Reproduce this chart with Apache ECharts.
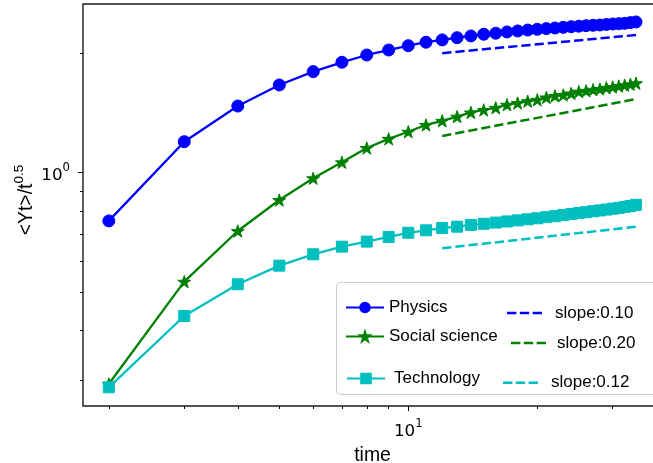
<!DOCTYPE html>
<html><head><meta charset="utf-8">
<script src="https://cdn.jsdelivr.net/npm/echarts@6/dist/echarts.min.js"></script>
<style>html,body{margin:0;padding:0;background:#fff}#c{width:653px;height:463px}</style>
</head><body><div id="c"></div>
<script>
// ---- data ----
const times = [2,3,4,5,6,7,8,9,10,11,12,13,14,15,16,17,18,19,20,21,22,23,24,25,26,27,28,29,30,31,32,33,34];
const physics = [0.756,1.197,1.472,1.663,1.797,1.897,1.979,2.037,2.089,2.131,2.160,2.188,2.210,2.232,2.245,2.262,2.275,2.287,2.297,2.306,2.314,2.323,2.332,2.339,2.346,2.351,2.355,2.362,2.369,2.373,2.378,2.388,2.397];
const social = [0.2936,0.5314,0.7130,0.8535,0.9681,1.062,1.154,1.217,1.268,1.319,1.351,1.384,1.418,1.439,1.457,1.483,1.498,1.514,1.526,1.547,1.561,1.569,1.583,1.600,1.608,1.618,1.625,1.636,1.644,1.653,1.661,1.670,1.680];
const technology = [0.2880,0.4355,0.5236,0.5832,0.6229,0.6511,0.6705,0.6887,0.7057,0.7159,0.7254,0.7311,0.7384,0.7435,0.7487,0.7536,0.7584,0.7632,0.7676,0.7726,0.7771,0.7821,0.7866,0.7912,0.7954,0.7996,0.8033,0.8075,0.8115,0.8153,0.8196,0.8244,0.8300];
const slopeTimes = [12, 34];
const physicsSlope = [2.000, 2.222];
const socialSlope = [1.237, 1.533];
const technologySlope = [0.645, 0.731];
const seriesNames = ['Physics', 'Social science', 'Technology'];
const slopeNames = ['slope:0.10', 'slope:0.20', 'slope:0.12'];
const xMinorTicks = [2,3,4,5,6,7,8,9,20,30];
const xMajorTicks = [10];
const yMinorTicks = [0.3,0.4,0.5,0.6,0.7,0.8,0.9,2];
const yMajorTicks = [1];
const xTitle = 'time';
const yTitleMain = '<Yt>/t';
const yTitleSup = '0.5';

// ---- styling ----
const X_MIN = 1.741, X_MAX = 39.1, Y_MIN = 0.2584, Y_MAX = 2.660;
const BLUE = '#0000ff', GREEN = '#008000', CYAN = '#00bfbf';
const STAR = 'path://M50,0 L61.23,34.55 L97.55,34.55 L68.16,55.9 L79.39,90.45 L50,69.1 L20.61,90.45 L31.84,55.9 L2.45,34.55 L38.77,34.55 Z';
const DASH_ICON = 'path://M0,0h9.5v2.5h-9.5z M13,0h9.5v2.5h-9.5z M26,0h9.5v2.5h-9.5z';
const pair = (xs, ys) => xs.map((x, i) => [x, ys[i]]);
const tickFmt = v => '{b|10}{s|' + Math.round(Math.log10(v)) + '}';
const tickRich = {
  b: {fontFamily: 'DejaVu Sans', fontSize: 16.7, color: '#000', lineHeight: 22, verticalAlign: 'bottom'},
  s: {fontFamily: 'DejaVu Sans', fontSize: 11.7, color: '#000', lineHeight: 14, verticalAlign: 'top'}
};
const legendText = {fontFamily: 'Liberation Sans', fontSize: 17, color: '#000'};
function legendItem(name, left, top, w, h, icon, pad) {
  const item = icon ? {name: name, icon: icon} : {name: name};
  return {data: [item], left: left, top: top, itemWidth: w, itemHeight: h, padding: 0, itemGap: 0,
    selectedMode: false, textStyle: Object.assign({}, legendText, {padding: pad || 0})};
}
function markerSeries(name, ys, color, symbol, size) {
  return {name: name, type: 'line', data: pair(times, ys), symbol: symbol, symbolSize: size, symbolKeepAspect: true,
    showAllSymbol: true, lineStyle: {color: color, width: 2.3},
    itemStyle: {color: color, borderColor: color, borderWidth: 1}, emphasis: {disabled: true}};
}
function slopeSeries(name, ys, color) {
  return {name: name, type: 'line', data: pair(slopeTimes, ys), symbol: 'none',
    lineStyle: {color: color, width: 2.5, type: [9.25, 4]}, itemStyle: {color: color}, emphasis: {disabled: true}};
}

const chart = echarts.init(document.getElementById('c'), null, {renderer: 'canvas'});
chart.setOption({
  animation: false,
  backgroundColor: '#fff',
  grid: {left: 83, top: 4, right: -9, bottom: 57, outerBoundsMode: 'none', containLabel: false,
    show: true, borderColor: '#1a1a1a', borderWidth: 1.4, backgroundColor: 'transparent'},
  xAxis: [
    {type: 'log', min: X_MIN, max: X_MAX, position: 'bottom', axisLine: {show: false}, splitLine: {show: false},
      axisTick: {show: true, customValues: xMinorTicks, length: 3, lineStyle: {color: '#000', width: 1}},
      axisLabel: {show: false},
      name: xTitle, nameLocation: 'middle', nameGap: 40,
      nameTextStyle: {fontFamily: 'Liberation Sans', fontSize: 19.4, color: '#000'}},
    {type: 'log', min: X_MIN, max: X_MAX, position: 'bottom', axisLine: {show: false}, splitLine: {show: false},
      axisTick: {show: true, customValues: xMajorTicks, length: 5, lineStyle: {color: '#000', width: 1}},
      axisLabel: {show: true, customValues: xMajorTicks, margin: 12, formatter: tickFmt, rich: tickRich}}
  ],
  yAxis: [
    {type: 'log', min: Y_MIN, max: Y_MAX, position: 'left', axisLine: {show: false}, splitLine: {show: false},
      axisTick: {show: true, customValues: yMinorTicks, length: 3, lineStyle: {color: '#000', width: 1}},
      axisLabel: {show: false},
      name: '{n|' + yTitleMain + '}{s|' + yTitleSup + '}', nameLocation: 'middle', nameRotate: 90, nameGap: 47,
      nameTextStyle: {padding: [0, 0, 0, 10], rich: {
        n: {fontFamily: 'Liberation Sans', fontSize: 19.4, color: '#000', lineHeight: 24, verticalAlign: 'bottom'},
        s: {fontFamily: 'Liberation Sans', fontSize: 13.6, color: '#000', lineHeight: 16, verticalAlign: 'top'}}}},
    {type: 'log', min: Y_MIN, max: Y_MAX, position: 'left', offset: 0, axisLine: {show: false}, splitLine: {show: false},
      axisTick: {show: true, customValues: yMajorTicks, length: 5, lineStyle: {color: '#000', width: 1}},
      axisLabel: {show: true, customValues: yMajorTicks, margin: 13, formatter: tickFmt, rich: tickRich}}
  ],
  legend: [
    legendItem(seriesNames[0], 345, 299, 38, 12),
    legendItem(seriesNames[1], 345, 328, 38, 12),
    legendItem(seriesNames[2], 346, 370, 38, 12, null, [0, 0, 8, 4]),
    legendItem(slopeNames[0], 507, 304.5, 35, 3, DASH_ICON, [0, 0, 4, 8]),
    legendItem(slopeNames[1], 511, 334.5, 35, 3, DASH_ICON, [0, 0, 8, 6]),
    legendItem(slopeNames[2], 503, 374.2, 35, 3, DASH_ICON, [0, 0, 1, 8])
  ],
  graphic: [{type: 'rect', z: 3, shape: {x: 336.5, y: 282.5, width: 330, height: 112, r: 4},
    style: {fill: 'rgba(255,255,255,0.8)', stroke: '#cccccc', lineWidth: 1}}],
  series: [
    markerSeries(seriesNames[0], physics, BLUE, 'circle', 12),
    slopeSeries(slopeNames[0], physicsSlope, BLUE),
    markerSeries(seriesNames[1], social, GREEN, STAR, 13),
    slopeSeries(slopeNames[1], socialSlope, GREEN),
    markerSeries(seriesNames[2], technology, CYAN, 'rect', 11),
    slopeSeries(slopeNames[2], technologySlope, CYAN)
  ]
});
</script></body></html>
